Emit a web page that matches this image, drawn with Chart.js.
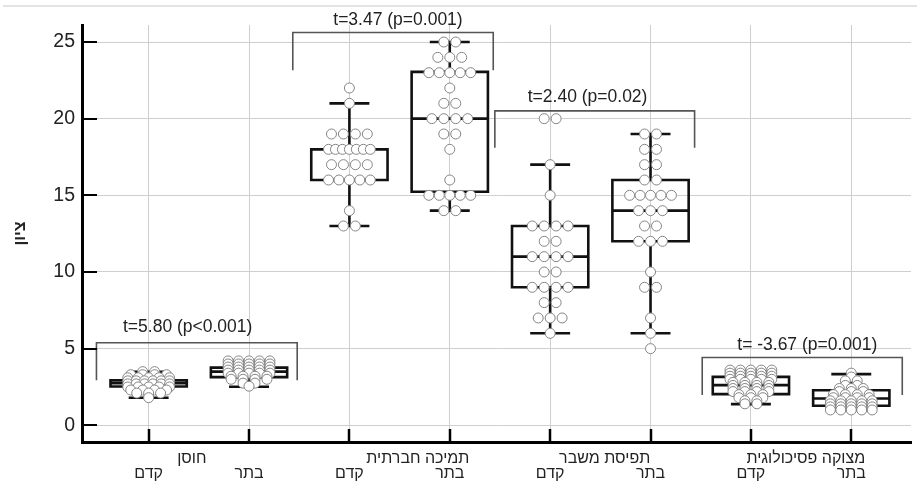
<!DOCTYPE html>
<html><head><meta charset="utf-8">
<script src="https://cdn.jsdelivr.net/npm/chart.js@4.4.1/dist/chart.umd.min.js"></script>
<style>
html,body{margin:0;padding:0;background:#fff;}
#wrap{position:relative;width:917px;height:486px;overflow:hidden;}
#topline{position:absolute;left:3px;right:0;top:5px;height:2px;background:#e3e3e3;}
canvas{position:absolute;left:0;top:0;}
</style></head><body>
<div id="wrap"><div id="topline"></div><canvas id="c" width="917" height="486"></canvas></div>
<script>
// ---- data ----
const categories = ['חוסן', 'תמיכה חברתית', 'תפיסת משבר', 'מצוקה פסיכולוגית'];
const timeLabels = ['קדם', 'בתר', 'קדם', 'בתר', 'קדם', 'בתר', 'קדם', 'בתר'];
const yTicks = [0, 5, 10, 15, 20, 25];

const resilienceBefore = [3.5,3.5,3.3,3.3,3.3,3.3,3.1,3.1,3.1,3.1,3.1,2.9,2.9,2.9,2.9,2.9,2.9,2.7,2.7,2.7,2.7,2.7,2.7,2.5,2.5,2.5,2.5,2.5,2.3,2.3,2.3,2.3,2.1,2.1,2.1,1.8];
const resilienceAfter = [4.2,4.2,4.2,4.2,4.2,4.0,4.0,4.0,4.0,4.0,3.8,3.8,3.8,3.8,3.8,3.6,3.6,3.6,3.6,3.6,3.4,3.4,3.4,3.4,3.4,3.2,3.2,3.2,3.2,3.0,3.0,3.0,3.0,2.75,2.75,2.55];
const supportBefore = [22,21,19,19,19,19,18,18,18,18,18,18,18,17,17,17,17,16,16,16,16,16,14,13,13];
const supportAfter = [25,25,24,24,24,23,23,23,23,23,22,21,21,20,20,20,20,19,19,18,16,15,15,15,15,15,14,14];
const crisisBefore = [20,20,17,15,13,13,13,13,12,12,11,11,11,11,10,10,9,9,9,9,8,8,7,7,7,6];
const crisisAfter = [19,19,18,18,17,17,16,16,15,15,15,15,15,14,14,14,13,13,12,12,12,10,9,9,7,6,5];
const distressBefore = [3.6,3.6,3.6,3.6,3.6,3.4,3.4,3.4,3.4,3.4,3.2,3.2,3.2,3.2,3.2,3.0,3.0,3.0,3.0,3.0,2.8,2.8,2.8,2.8,2.6,2.6,2.6,2.6,2.4,2.4,2.4,2.4,2.2,2.2,2.2,2.2,2.0,2.0,2.0,1.8,1.8,1.8,1.6,1.6,1.4,1.4];
const distressAfter = [3.4,3.15,2.9,2.9,2.6,2.6,2.4,2.4,2.4,2.2,2.2,2.2,2.0,2.0,2.0,2.0,1.8,1.8,1.8,1.8,1.6,1.6,1.6,1.6,1.6,1.4,1.4,1.4,1.4,1.4,1.2,1.2,1.2,1.2,1.2,1.0,1.0,1.0,1.0,1.0];

// box statistics: [lower whisker, Q1, median, Q3, upper whisker]
const boxResilienceBefore = [1.80, 2.53, 2.75, 2.94, 3.49];
const boxResilienceAfter  = [2.51, 3.14, 3.50, 3.76, 4.20];
const boxSupportBefore    = [13, 16, 18, 18, 21];
const boxSupportAfter     = [14, 15.23, 20, 23.05, 25];
const boxCrisisBefore     = [6, 9, 11, 13, 17];
const boxCrisisAfter      = [6, 12, 14, 16, 19];
const boxDistressBefore   = [1.38, 2.03, 2.62, 3.16, 3.42];
const boxDistressAfter    = [1.00, 1.27, 1.75, 2.29, 3.34];

// paired t-tests
const testTexts = ['t=5.80 (p<0.001)', 't=3.47 (p=0.001)', 't=2.40 (p=0.02)', 't= -3.67 (p=0.001)'];
const bracketFrom = [-0.52, 1.436, 3.449, 5.515];
const bracketTo   = [1.48, 3.433, 5.439, 7.508];
const bracketTop  = [5.38, 25.62, 20.51, 4.42];
const bracketLeg  = [2.94, 23.16, 18.10, 1.97];
const testTextX   = [0.389, 2.484, 4.373, 6.562];
const testTextY   = [6.09, 26.10, 21.10, 4.90];
const groupLabelX = [0.43, 2.682, 4.543, 6.547];

// ---- building ----
const dotSets = [resilienceBefore, resilienceAfter, supportBefore, supportAfter, crisisBefore, crisisAfter, distressBefore, distressAfter];
const boxSets = [boxResilienceBefore, boxResilienceAfter, boxSupportBefore, boxSupportAfter, boxCrisisBefore, boxCrisisAfter, boxDistressBefore, boxDistressAfter];

const PX_PER_CAT = 100.86, DOT_GAP = 12, ROW_MAX = 42;
function spread(vals, center) {
  const counts = {}, seen = {};
  vals.forEach(v => counts[v] = (counts[v] || 0) + 1);
  return vals.map(v => {
    const n = counts[v];
    const k = seen[v] = (seen[v] === undefined ? 0 : seen[v] + 1);
    const gap = n > 1 ? Math.min(DOT_GAP, ROW_MAX / (n - 1)) : 0;
    return {x: center + (k - (n - 1) / 2) * gap / PX_PER_CAT, y: v};
  });
}
function boxPath(c, s) {
  const [lo, q1, md, q3, hi] = s, w = 0.38, cw = 0.186, g = {x: c, y: null};
  return [{x:c-w,y:q1},{x:c+w,y:q1},{x:c+w,y:q3},{x:c-w,y:q3},{x:c-w,y:q1},g,
          {x:c-w,y:md},{x:c+w,y:md},g,
          {x:c,y:q3},{x:c,y:hi},g,{x:c-cw,y:hi},{x:c+cw,y:hi},g,
          {x:c,y:q1},{x:c,y:lo},g,{x:c-cw,y:lo},{x:c+cw,y:lo},g];
}
const dots = [], boxes = [], brackets = [];
dotSets.forEach((vals, i) => dots.push(...spread(vals, i)));
boxSets.forEach((s, i) => boxes.push(...boxPath(i, s)));
bracketFrom.forEach((f, i) => {
  brackets.push({x:f,y:bracketLeg[i]},{x:f,y:bracketTop[i]},{x:bracketTo[i],y:bracketTop[i]},{x:bracketTo[i],y:bracketLeg[i]},{x:f,y:null});
});

const FONT = '"Liberation Sans", Arial, "DejaVu Sans", sans-serif';
const annot = {
  id: 'annot',
  afterDraw(chart) {
    const {ctx, scales: {x, y}, chartArea: a} = chart;
    ctx.save();
    ctx.strokeStyle = '#000';
    ctx.lineWidth = 2;
    yTicks.forEach(v => { const py = Math.round(y.getPixelForValue(v)); ctx.beginPath(); ctx.moveTo(a.left, py); ctx.lineTo(a.left + 15, py); ctx.stroke(); });
    ctx.lineWidth = 2.5;
    timeLabels.forEach((_, i) => { const px = Math.round(x.getPixelForValue(i)); ctx.beginPath(); ctx.moveTo(px, a.bottom); ctx.lineTo(px, a.bottom - 13); ctx.stroke(); });
    ctx.fillStyle = '#222';
    ctx.font = '17.5px ' + FONT;
    ctx.textAlign = 'center';
    ctx.textBaseline = 'alphabetic';
    testTexts.forEach((t, i) => ctx.fillText(t, x.getPixelForValue(testTextX[i]), y.getPixelForValue(testTextY[i])));
    ctx.font = '16px ' + FONT;
    ctx.textBaseline = 'middle';
    categories.forEach((c, i) => ctx.fillText(c, x.getPixelForValue(groupLabelX[i]), a.bottom + 16.5));
    ctx.restore();
  }
};

new Chart(document.getElementById('c'), {
  type: 'scatter',
  data: { datasets: [
    { data: dots, order: 0, pointRadius: 5, pointHoverRadius: 5, borderWidth: 1, borderColor: '#858585', backgroundColor: '#fff', clip: false },
    { data: boxes, order: 1, showLine: true, spanGaps: false, pointRadius: 0, borderColor: '#111', borderWidth: 2.6, borderJoinStyle: 'miter', borderCapStyle: 'square', clip: false },
    { data: brackets, order: 2, showLine: true, spanGaps: false, pointRadius: 0, borderColor: '#555', borderWidth: 1.6, borderJoinStyle: 'miter', clip: false }
  ]},
  options: {
    responsive: false, animation: false, devicePixelRatio: 1,
    layout: { padding: { left: 0, right: 2, top: 25, bottom: 0 } },
    plugins: { legend: { display: false }, tooltip: { enabled: false } },
    scales: {
      x: {
        type: 'linear', min: -0.664, max: 7.595,
        afterFit: s => { s.height = 44; },
        afterBuildTicks: s => { s.ticks = timeLabels.map((_, i) => ({value: i})); },
        grid: { color: '#cfcfcf', lineWidth: 1, drawTicks: false },
        border: { display: true, color: '#000', width: 3 },
        ticks: { padding: 22, color: '#222', font: { size: 16, family: FONT }, callback: v => timeLabels[v], maxRotation: 0, autoSkip: false }
      },
      y: {
        min: -1.09, max: 26.11,
        afterFit: s => { s.width = 82; },
        afterBuildTicks: s => { s.ticks = yTicks.map(v => ({value: v})); },
        grid: { color: '#cfcfcf', lineWidth: 1, drawTicks: false },
        border: { display: true, color: '#000', width: 3 },
        ticks: { padding: 7, color: '#222', font: { size: 19.5, family: FONT } },
        title: { display: true, text: 'ציון', color: '#222', font: { size: 16, weight: 'bold', family: FONT }, padding: { top: 11, bottom: 0 } }
      }
    }
  },
  plugins: [annot]
});
</script>
</body></html>
